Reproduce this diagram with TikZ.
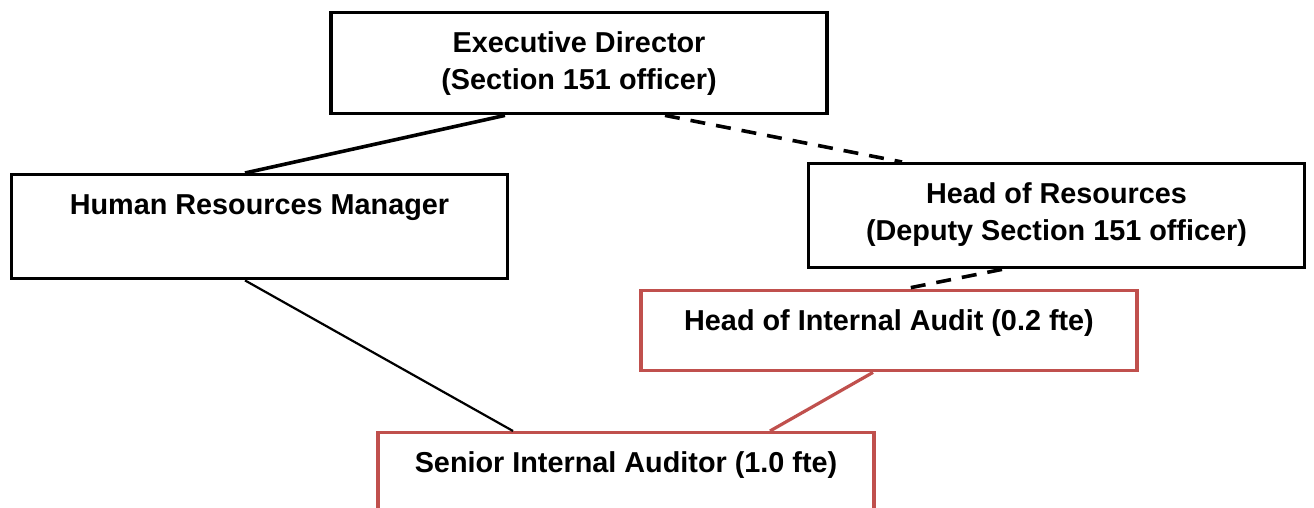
\documentclass[tikz,border=0pt]{standalone}
\usepackage{fontspec}
\setmainfont{Liberation Sans}
\usepackage{tikz}

\definecolor{auditred}{RGB}{192,80,77}

\tikzset{
  post/.style={draw, line width=1.7pt, anchor=north, align=center, inner sep=0pt,
    minimum width=248pt, text height=20pt,
    font=\bfseries\fontsize{14.4}{18.5}\selectfont},
  % two lines: the node's baseline is the lower one
  twoline/.style={post, text height=38.5pt},
  audit/.style={post, draw=auditred},
  line/.style={line width=1.8pt},
  dotted line/.style={line width=1.8pt, dash pattern=on 7.5pt off 5.5pt}
}

\begin{document}
\begin{tikzpicture}[x=0.5pt, y=-0.5pt]
  \useasboundingbox (0,0) rectangle (1314,508);

  \node[twoline, text depth=12pt] (ED) at (579,11) {Executive Director\\(Section 151 officer)};
  \node[post, text depth=32pt] (HRM) at (259.5,173) {Human Resources Manager};
  \node[twoline, text depth=13.5pt] (HoR) at (1056.5,162) {Head of Resources\\(Deputy Section 151 officer)};
  \node[audit, text depth=20pt] (HIA) at (889,289) {Head of Internal Audit (0.2 fte)};
  \node[audit, text depth=19pt] (SIA) at (626,431) {Senior Internal Auditor (1.0 fte)};

  \draw[line] ([xshift=-37pt]ED.south) -- ([xshift=-7.25pt]HRM.north);
  \draw[dotted line] ([xshift=43pt]ED.south) -- ([xshift=-77.25pt]HoR.north);
  \draw[dotted line] ([xshift=-27.25pt]HoR.south) -- ([xshift=7.5pt]HIA.north);
  \draw[line width=1.1pt] ([xshift=-7.25pt]HRM.south) -- ([xshift=-56.5pt]SIA.north);
  \draw[line width=1.6pt, auditred] ([xshift=-8pt]HIA.south) -- ([xshift=72pt]SIA.north);
\end{tikzpicture}
\end{document}
